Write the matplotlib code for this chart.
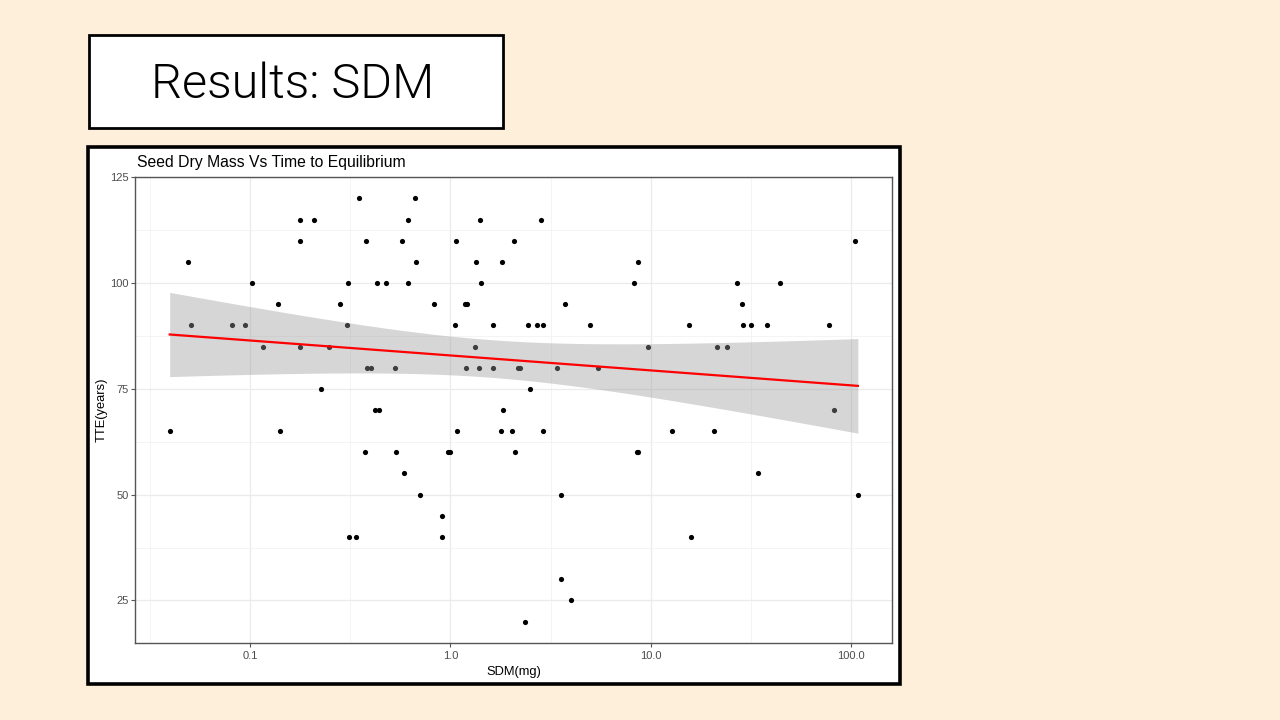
import numpy as np
import matplotlib
matplotlib.use("Agg")
import matplotlib.pyplot as plt
from matplotlib.patches import Rectangle
from matplotlib.ticker import FixedLocator, FixedFormatter, NullFormatter

# ---- data ----
sdm_mg = [0.0397, 0.0491, 0.0509, 0.0813, 0.0947, 0.102, 0.1166, 0.1386, 0.1418, 0.1765,
          0.1765, 0.177, 0.2075, 0.2256, 0.249, 0.2797, 0.3043, 0.3067, 0.310, 0.336,
          0.349, 0.373, 0.380, 0.3846, 0.4027, 0.42, 0.44, 0.43, 0.478, 0.526,
          0.536, 0.570, 0.588, 0.613, 0.613, 0.667, 0.672, 0.706, 0.827, 0.907,
          0.907, 0.972, 0.998, 1.057, 1.069, 1.078, 1.186, 1.195, 1.213, 1.326,
          1.341, 1.393, 1.41, 1.426, 1.631, 1.631, 1.789, 1.803, 1.823, 2.037,
          2.085, 2.11, 2.183, 2.226, 2.366, 2.432, 2.506, 2.698, 2.835, 2.90,
          2.90, 3.42, 3.556, 3.556, 3.75, 4.02, 5.0, 5.48, 8.236, 8.52,
          8.65, 8.59, 9.64, 12.8, 15.55, 15.9, 20.7, 21.4, 24.0, 27.0,
          28.5, 28.8, 31.7, 34.4, 38.0, 44.3, 77.2, 82.4, 104.1, 108.1]
tte_years = [65, 105, 90, 90, 90, 100, 85, 95, 65, 115,
             110, 85, 115, 75, 85, 95, 90, 100, 40, 40,
             120, 60, 110, 80, 80, 70, 70, 100, 100, 80,
             60, 110, 55, 115, 100, 120, 105, 50, 95, 45,
             40, 60, 60, 90, 110, 65, 95, 80, 95, 85,
             105, 80, 115, 100, 90, 80, 65, 105, 70, 65,
             110, 60, 80, 80, 20, 90, 75, 90, 115, 90,
             65, 80, 50, 30, 95, 25, 90, 80, 100, 60,
             60, 105, 85, 65, 90, 40, 65, 85, 85, 100,
             95, 90, 90, 55, 90, 100, 90, 70, 110, 50]
x_ticks = [0.1, 1.0, 10.0, 100.0]
x_tick_labels = ["0.1", "1.0", "10.0", "100.0"]
y_ticks = [25, 50, 75, 100, 125]
y_tick_labels = ["25", "50", "75", "100", "125"]

slide_title = "Results: SDM"
chart_title = "Seed Dry Mass Vs Time to Equilibrium"
x_label = "SDM(mg)"
y_label = "TTE(years)"

# ---- figure ----
W, H = 1280, 720
fig = plt.figure(figsize=(W / 100, H / 100), dpi=100, facecolor="#FEEFDB")

# overlay in pixel coordinates for slide decorations
bg = fig.add_axes([0, 0, 1, 1], zorder=0)
bg.set_xlim(0, W)
bg.set_ylim(H, 0)
bg.axis("off")
bg.add_patch(Rectangle((88.5, 34.5), 414.5, 93, facecolor="white", edgecolor="black", lw=2))
bg.text(292.5, 98.5, slide_title, fontsize=35, family="Roboto", weight=300,
        ha="center", va="baseline", color="black")
bg.add_patch(Rectangle((87.5, 147), 812.5, 537, facecolor="white", edgecolor="black", lw=2.6))
bg.text(137, 162, chart_title, fontsize=11.3, family="Liberation Sans",
        ha="left", va="center", color="black")
bg.text(513.8, 671.5, x_label, fontsize=9.3, family="Liberation Sans",
        ha="center", va="center", color="black")
bg.text(101.5, 410, y_label, fontsize=9.3, family="Liberation Sans",
        ha="center", va="center", rotation=90, color="black")

# main panel
left, right, top, bottom = 135.3, 892.3, 177.3, 642.7
ax = fig.add_axes([left / W, (H - bottom) / H, (right - left) / W, (bottom - top) / H], zorder=1)
ax.set_facecolor("white")

x = np.array(sdm_mg, dtype=float)
y = np.array(tte_years, dtype=float)
lx = np.log10(x)

# linear model on log10 scale with 95% confidence band (ggplot geom_smooth(method="lm"))
n = len(lx)
b1, b0 = np.polyfit(lx, y, 1)
resid = y - (b0 + b1 * lx)
s = np.sqrt(np.sum(resid ** 2) / (n - 2))
sxx = np.sum((lx - lx.mean()) ** 2)
gx = np.linspace(lx.min(), lx.max(), 80)
gy = b0 + b1 * gx
se = s * np.sqrt(1.0 / n + (gx - lx.mean()) ** 2 / sxx)
tq = 1.9845
ax.scatter(x, y, s=14, color="black", linewidths=0, zorder=3)
ax.fill_between(10 ** gx, gy - tq * se, gy + tq * se, color="#999999", alpha=0.4,
                linewidth=0, zorder=4)
ax.plot(10 ** gx, gy, color="red", lw=1.6, zorder=5)

ax.set_xscale("log")
span = lx.max() - lx.min()
ax.set_xlim(10 ** (lx.min() - 0.05 * span), 10 ** (lx.max() + 0.05 * span))
yspan = y.max() - y.min()
ax.set_ylim(y.min() - 0.05 * yspan, y.max() + 0.05 * yspan)

ax.xaxis.set_major_locator(FixedLocator(x_ticks))
ax.xaxis.set_major_formatter(FixedFormatter(x_tick_labels))
ax.xaxis.set_minor_locator(FixedLocator([10 ** (np.log10(a) + 0.5) for a in [0.01] + x_ticks]))
ax.xaxis.set_minor_formatter(NullFormatter())
ax.yaxis.set_major_locator(FixedLocator(y_ticks))
ax.yaxis.set_major_formatter(FixedFormatter(y_tick_labels))
ax.yaxis.set_minor_locator(FixedLocator([t - 12.5 for t in y_ticks] + [137.5]))

ax.grid(which="major", color="#EBEBEB", lw=0.9, zorder=0)
ax.grid(which="minor", color="#F2F2F2", lw=0.6, zorder=0)
ax.set_axisbelow(True)
for sp in ax.spines.values():
    sp.set_color("#555555")
    sp.set_linewidth(1.0)
ax.tick_params(which="major", length=3, width=0.8, color="#555555",
               labelsize=8, labelcolor="#4D4D4D", pad=1.5)
ax.tick_params(axis="x", which="major", pad=3)
ax.tick_params(which="minor", length=0)
for lab in ax.get_xticklabels() + ax.get_yticklabels():
    lab.set_family("Liberation Sans")

fig.savefig("out.png", dpi=100, facecolor=fig.get_facecolor())
